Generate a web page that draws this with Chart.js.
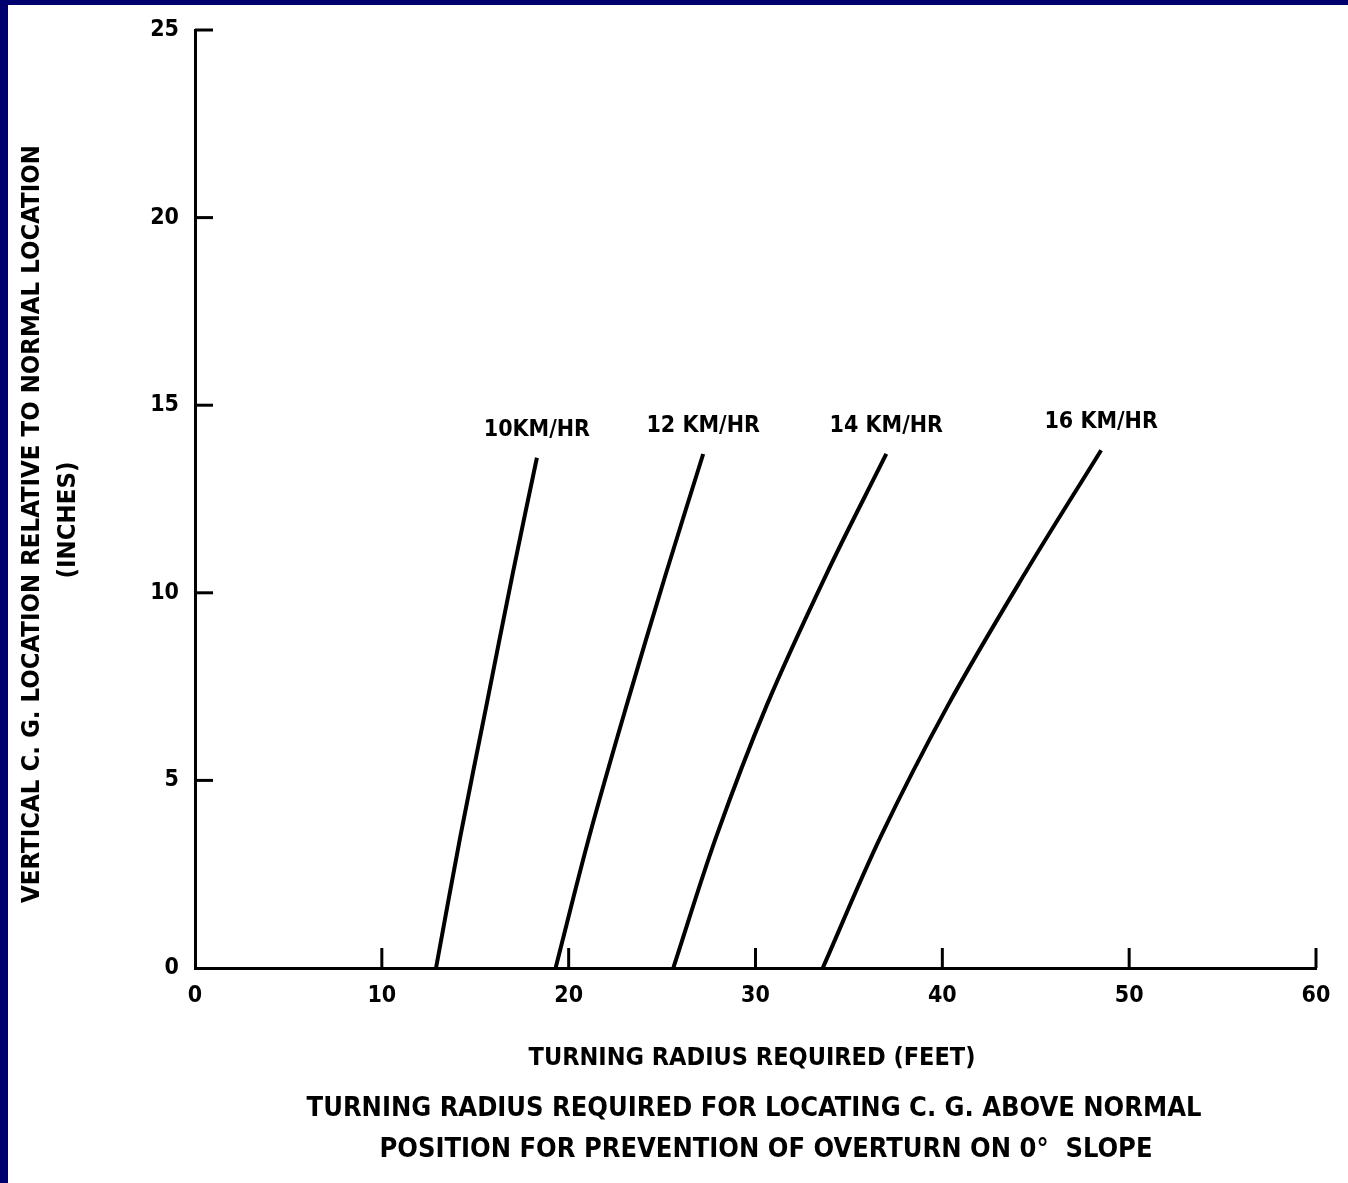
<!DOCTYPE html>
<html>
<head>
<meta charset="utf-8">
<title>Turning radius</title>
<script src="https://cdn.jsdelivr.net/npm/chart.js@4.4.1/dist/chart.umd.min.js"></script>
<style>
  html, body { margin: 0; padding: 0; background: #fff; }
  body { width: 1348px; height: 1183px; position: relative; overflow: hidden; }
  .topbar { position: absolute; left: 0; top: 0; width: 1348px; height: 5px; background: #00006e; }
  .leftbar { position: absolute; left: 0; top: 0; width: 8px; height: 1183px; background: #00006e; }
  #wrap { position: absolute; left: 0; top: 0; width: 1348px; height: 1183px; }
</style>
</head>
<body>
<div id="wrap"><canvas id="chart"></canvas></div>
<div class="topbar"></div>
<div class="leftbar"></div>
<script>
// values: turning radius (feet) vs C.G. height (inches)
const speeds = ['10KM/HR', '12 KM/HR', '14 KM/HR', '16 KM/HR'];
const radius10 = [12.9, 14.2, 15.6, 17.0, 18.3];
const height10 = [0, 3.5, 7, 10.5, 13.6];
const radius12 = [19.3, 21.1, 23.1, 25.2, 27.2];
const height12 = [0, 3.5, 7, 10.5, 13.7];
const radius14 = [25.6, 27.9, 30.6, 33.8, 37.0];
const height14 = [0, 3.5, 7, 10.5, 13.7];
const radius16 = [33.6, 36.7, 40.3, 44.4, 48.5];
const height16 = [0, 3.5, 7, 10.5, 13.8];
const xTicks = [0, 10, 20, 30, 40, 50, 60];
const yTicks = [0, 5, 10, 15, 20, 25];

const xTitle = 'TURNING RADIUS REQUIRED (FEET)';
const yTitle = ['VERTICAL C. G. LOCATION RELATIVE TO NORMAL LOCATION', '(INCHES)'];
const caption = ['TURNING RADIUS REQUIRED FOR LOCATING C. G. ABOVE NORMAL',
                 'POSITION FOR PREVENTION OF OVERTURN ON 0\u00B0  SLOPE'];

const FONT = "'Liberation Sans Narrow', 'DejaVu Sans Condensed', sans-serif";

function pts(xs, ys) {
  return xs.map((x, i) => ({ x: x, y: ys[i] }));
}

const series = [pts(radius10, height10), pts(radius12, height12), pts(radius14, height14), pts(radius16, height16)];

// tick marks pointing into the plot, plus all the printed text
const decor = {
  id: 'decor',
  afterDraw(chart) {
    const ctx = chart.ctx;
    const xs = chart.scales.x, ys = chart.scales.y;
    const left = chart.chartArea.left, bottom = chart.chartArea.bottom;
    ctx.save();
    ctx.strokeStyle = '#000';
    ctx.lineWidth = 3;
    xTicks.forEach(v => {
      if (v === 0) return;
      const px = xs.getPixelForValue(v);
      ctx.beginPath(); ctx.moveTo(px, bottom); ctx.lineTo(px, bottom - 20); ctx.stroke();
    });
    yTicks.forEach(v => {
      if (v === 0) return;
      const py = ys.getPixelForValue(v);
      ctx.beginPath(); ctx.moveTo(left, py); ctx.lineTo(left + 18, py); ctx.stroke();
    });

    ctx.fillStyle = '#000';
    ctx.textAlign = 'center';
    ctx.textBaseline = 'middle';

    // curve labels above the top end of each line
    ctx.font = 'bold 23px ' + FONT;
    series.forEach((s, i) => {
      const last = s[s.length - 1];
      ctx.fillText(speeds[i], xs.getPixelForValue(last.x), ys.getPixelForValue(last.y) - 28);
    });

    // x title and caption
    ctx.font = 'bold 25px ' + FONT;
    ctx.fillText(xTitle, 752, 1058);
    ctx.font = 'bold 27px ' + FONT;
    ctx.fillText(caption[0], 754, 1109);
    ctx.fillText(caption[1], 766, 1150);

    // y title, rotated
    ctx.translate(32, 524);
    ctx.rotate(-Math.PI / 2);
    ctx.font = 'bold 25.5px ' + FONT;
    ctx.fillText(yTitle[0], 0, 0);
    ctx.fillText(yTitle[1], 4, 36);
    ctx.restore();
  }
};

const ctx = document.getElementById('chart').getContext('2d');
const myChart = new Chart(ctx, {
  type: 'scatter',
  data: {
    datasets: series.map((s, i) => ({
      label: speeds[i],
      data: s,
      showLine: true,
      tension: 0.35,
      borderColor: '#000',
      borderWidth: 4,
      pointRadius: 0,
      fill: false
    }))
  },
  options: {
    responsive: true,
    maintainAspectRatio: false,
    animation: false,
    layout: { padding: { left: 0, top: 30, right: 32, bottom: 0 } },
    plugins: { legend: { display: false }, tooltip: { enabled: false } },
    scales: {
      x: {
        type: 'linear',
        min: 0, max: 60,
        afterFit: s => { s.height = 215; },
        afterBuildTicks: s => { s.ticks = xTicks.map(v => ({ value: v })); },
        grid: { display: false, drawTicks: false },
        border: { display: true, color: '#000', width: 3 },
        ticks: { padding: 14, color: '#000', font: { family: FONT, size: 23, weight: 'bold' } }
      },
      y: {
        type: 'linear',
        min: 0, max: 25,
        afterFit: s => { s.width = 195; },
        afterBuildTicks: s => { s.ticks = yTicks.map(v => ({ value: v })); },
        grid: { display: false, drawTicks: false },
        border: { display: true, color: '#000', width: 3 },
        ticks: { padding: 16, color: '#000', font: { family: FONT, size: 23, weight: 'bold' } }
      }
    }
  },
  plugins: [decor]
});
</script>
</body>
</html>
